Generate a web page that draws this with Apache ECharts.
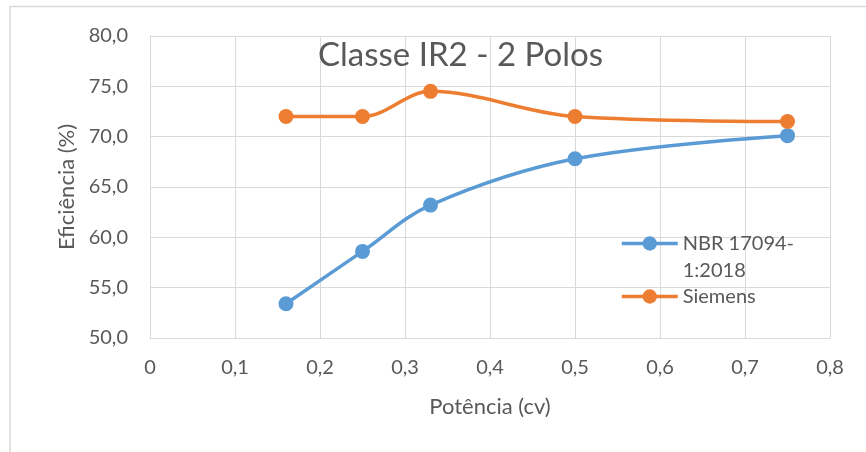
<!DOCTYPE html>
<html>
<head>
<meta charset="utf-8">
<script src="https://cdn.jsdelivr.net/npm/echarts@6/dist/echarts.min.js"></script>
<style>
  html, body { margin: 0; padding: 0; background: #fff; }
  #chart { width: 866px; height: 452px; }
</style>
</head>
<body>
<div id="chart"></div>
<script>
// Rated power (cv) at which each efficiency was measured
const potencia = [0.16, 0.25, 0.33, 0.5, 0.75];
// Efficiency (%) per standard / manufacturer
const nbrValues = [53.4, 58.6, 63.2, 67.8, 70.1];
const siemensValues = [72.0, 72.0, 74.5, 72.0, 71.5];
const seriesNames = ['NBR 17094-1:2018', 'Siemens'];
const chartTitle = 'Classe IR2 - 2 Polos';
const xAxisTitle = 'Potência (cv)';
const yAxisTitle = 'Eficiência (%)';

const FONT = 'Lato, "Liberation Sans", sans-serif';
const TEXT = '#595959';
const GRID = '#d9d9d9';
const BLUE = '#5b9bd5';
const ORANGE = '#ed7d31';

const pairs = (xs, ys) => xs.map((x, i) => [x, ys[i]]);
const comma = v => String(v).replace('.', ',');

const chart = echarts.init(document.getElementById('chart'), null, { renderer: 'canvas' });

const lineSeries = (name, values, color) => ({
  name,
  type: 'line',
  data: pairs(potencia, values),
  smooth: 0.35,
  symbol: 'circle',
  symbolSize: 15,
  lineStyle: { color, width: 3.5 },
  itemStyle: { color },
  emphasis: { disabled: true },
  z: 3
});

const legendBase = {
  left: 615,
  itemWidth: 56,
  itemHeight: 18,
  itemGap: 0,
  lineStyle: { width: 3.5 },
  textStyle: { fontFamily: FONT, fontSize: 20, color: TEXT, lineHeight: 27 }
};

chart.setOption({
  animation: false,
  backgroundColor: '#fff',
  title: {
    text: chartTitle,
    left: 313,
    top: 34,
    textStyle: { fontFamily: FONT, fontSize: 33, fontWeight: 'normal', color: TEXT }
  },
  legend: [
    Object.assign({}, legendBase, {
      data: [seriesNames[0]],
      top: 198,
      // wrap after the hyphen; the leading blank line keeps the marker level with the first line
      formatter: n => ' \n' + n.replace('-', '-\n')
    }),
    Object.assign({}, legendBase, {
      data: [seriesNames[1]],
      top: 278
    })
  ],
  graphic: [
    {
      type: 'polyline',
      shape: { points: [[10, 460], [10, 6.5], [870, 6.5]] },
      style: { stroke: GRID, lineWidth: 1.5, fill: null },
      silent: true
    }
  ],
  grid: { left: 150, top: 36, width: 680, height: 302, containLabel: false },
  xAxis: {
    type: 'value',
    min: 0,
    max: 0.8,
    interval: 0.1,
    name: xAxisTitle,
    nameLocation: 'middle',
    nameGap: 58,
    nameTextStyle: { fontFamily: FONT, fontSize: 22, color: TEXT },
    axisLine: { show: true, lineStyle: { color: GRID, width: 1 } },
    axisTick: { show: false },
    axisLabel: {
      margin: 20,
      fontFamily: FONT, fontSize: 20, color: TEXT,
      formatter: v => comma(+v.toFixed(1))
    },
    splitLine: { show: true, lineStyle: { color: GRID, width: 1 } }
  },
  yAxis: {
    type: 'value',
    min: 50,
    max: 80,
    interval: 5,
    name: yAxisTitle,
    nameLocation: 'middle',
    nameGap: 43,
    nameTextStyle: { fontFamily: FONT, fontSize: 22, color: TEXT },
    axisLine: { show: true, lineStyle: { color: GRID, width: 1 } },
    axisTick: { show: false },
    axisLabel: {
      margin: 22,
      fontFamily: FONT, fontSize: 20, color: TEXT,
      formatter: v => comma(v.toFixed(1))
    },
    splitLine: { show: true, lineStyle: { color: GRID, width: 1 } }
  },
  series: [
    lineSeries(seriesNames[0], nbrValues, BLUE),
    lineSeries(seriesNames[1], siemensValues, ORANGE)
  ]
});
</script>
</body>
</html>
